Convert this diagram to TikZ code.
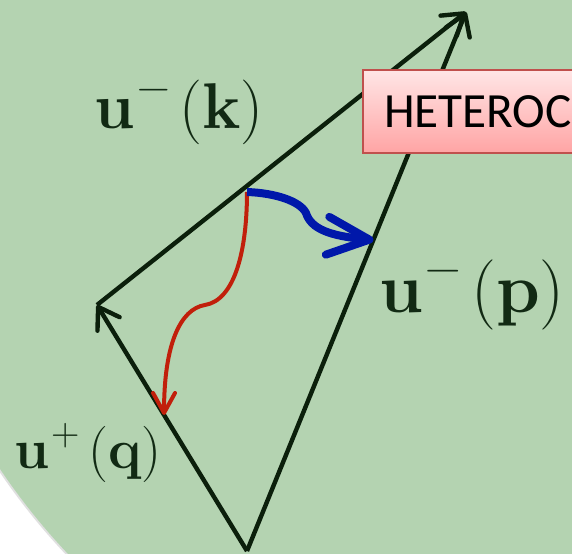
\documentclass[tikz,border=0pt]{standalone}
\usepackage{fontspec}
\usepackage{tikz}
\usetikzlibrary{arrows.meta, calc}
\newfontfamily\slidefont{Carlito}
\definecolor{slidegreen}{HTML}{B4D3B1}
\definecolor{vecdark}{HTML}{0B1F0B}
\definecolor{labeldark}{HTML}{122A14}
\definecolor{heliblue}{HTML}{0018AA}
\definecolor{helired}{HTML}{C11F0B}
\definecolor{boxtop}{HTML}{FFE6E6}
\definecolor{boxbottom}{HTML}{FFA4A4}
\definecolor{boxedge}{HTML}{C0504D}
\newcommand{\vecmode}[2]{\textbf{u}\kern0.04em\raisebox{0.41em}{\scalebox{0.7}{#1}}\kern0.14em(\textbf{#2})}

\begin{document}
\begin{tikzpicture}[
    x=0.25mm, y=-0.25mm,
    vec/.style={draw=vecdark, line width=1.1mm, -{Straight Barb[length=5mm, width=6.5mm, round]}},
    lbl/.style={text=labeldark, inner sep=0pt, font=\fontsize{#1}{#1}\selectfont},
    tagbox/.style={draw=boxedge, line width=0.5mm, top color=boxtop, bottom color=boxbottom,
        font=\slidefont\fontsize{35}{40}\selectfont, text width=55mm, align=left,
        inner xsep=5.25mm, inner ysep=0pt, minimum height=20.75mm},
    helix/.style={draw=#1, line width=1mm, -{Straight Barb[length=5mm, width=5.5mm, round]}},
]
    \useasboundingbox (0,0) rectangle (572,554);
    \clip (0,0) rectangle (572,554);

    % Slide background
    \fill[white] (0,0) rectangle (572,554);
    \draw[black!12, line width=0.6mm] (540,107) circle[radius=162.7mm];
    \fill[slidegreen] (540,107) circle[radius=162.5mm];

    % Triad corners
    \coordinate (T) at (466,12);
    \coordinate (L) at (97,305);
    \coordinate (B) at (247,551);
    \coordinate (S) at (247,192);
    \coordinate (Q) at ($(L)!0.447!(B)$);
    \coordinate (P) at ($(B)!0.577!(T)$);

    % Wave vectors
    \draw[vec] (L) -- (T);
    \draw[vec] (B) -- (T);
    \draw[vec] (B) -- (L);

    % Helical modes
    \draw[helix=helired] (S) .. controls (247,250) and (235,300) .. (205,305)
        .. controls (180,309) and (164,345) .. (Q);
    \draw[helix=heliblue, line width=2mm, -{Straight Barb[length=10.5mm, width=9.5mm, round]}]
        (S) .. controls (275,193) and (300,201) .. (306,213)
        .. controls (311,229) and (330,236) .. (P);

    % Labels
    \node[lbl=46] (kvec) at (179,112) {\vecmode{−}{k}};
    \node[lbl=50] (pvec) at (472,295) {\vecmode{−}{p}};
    \node[lbl=40] (qvec) at (88,453) {\vecmode{+}{q}};

    % Triad class
    \node[tagbox, anchor=north west] (hetero) at (362,69) {HETEROC};
\end{tikzpicture}
\end{document}
